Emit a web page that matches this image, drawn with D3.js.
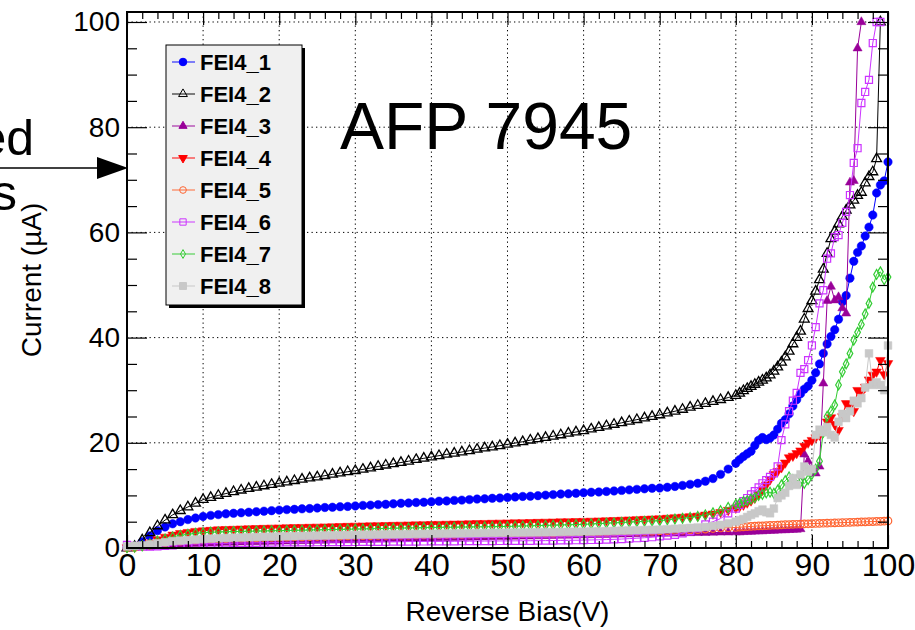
<!DOCTYPE html>
<html><head><meta charset="utf-8">
<script src="https://cdn.jsdelivr.net/npm/d3@7"></script>
<style>body{margin:0;background:#fff}svg{display:block}</style>
</head><body>
<svg id="c" width="915" height="630"></svg>
<script>
// ---------------- DATA ----------------
const voltage = [0,1,2,3,4,5,6,7,8,9,10,11,12,13,14,15,16,17,18,19,20,21,22,23,24,25,26,27,28,29,
30,31,32,33,34,35,36,37,38,39,40,41,42,43,44,45,46,47,48,49,50,51,52,53,54,55,56,57,58,59,
60,61,62,63,64,65,66,67,68,69,70,71,72,73,74,75,76,77,78,79,
80,80.5,81,81.5,82,82.5,83,83.5,84,84.5,85,85.5,86,86.5,87,87.5,88,88.5,89,89.5,
90,90.5,91,91.5,92,92.5,93,93.5,94,94.5,95,95.5,96,96.5,97,97.5,98,98.5,99,99.5,100];

const seriesNames = ["FEI4_1","FEI4_2","FEI4_3","FEI4_4","FEI4_5","FEI4_6","FEI4_7","FEI4_8"];

const FEI4_1 = [0.1,0.3,1.2,2.3,3.3,4.0,4.6,5.0,5.4,5.7,
 6.0,6.2,6.35,6.5,6.6,6.7,6.8,6.9,7.0,7.1,
 7.2,7.3,7.35,7.45,7.5,7.6,7.7,7.75,7.85,7.9,
 8.0,8.1,8.15,8.25,8.3,8.4,8.5,8.55,8.65,8.7,
 8.8,8.9,8.95,9.05,9.1,9.2,9.3,9.35,9.45,9.5,
 9.6,9.7,9.8,9.85,9.95,10.05,10.15,10.25,10.3,10.4,
 10.5,10.6,10.65,10.75,10.85,10.95,11.05,11.15,11.25,11.35,
 11.4,11.55,11.7,11.9,12.1,12.3,12.7,13.2,14.0,15.0,
 16.1,16.8,17.4,17.9,18.4,19.5,20.5,21.0,20.6,20.9,
 21.5,22.6,23.7,24.4,25.5,27.0,28.2,29.3,30.2,30.8,
 31.9,33.3,35.0,37.0,38.8,40.2,41.5,43.5,46.8,48.0,
 51.3,54.5,56.2,57.4,59.3,61.0,63.3,67.5,69.0,69.8,
 73.4];

const FEI4_2 = [0.0,0.3,1.5,2.9,4.2,5.3,6.3,7.1,7.8,8.5,
 9.2,9.6,10.0,10.35,10.7,11.0,11.3,11.55,11.8,12.05,
 12.3,12.55,12.8,13.05,13.3,13.5,13.75,14.0,14.25,14.5,
 14.7,14.95,15.2,15.5,15.75,16.0,16.25,16.5,16.8,17.05,
 17.3,17.55,17.8,18.0,18.25,18.5,18.75,19.0,19.2,19.45,
 19.7,19.95,20.2,20.5,20.75,21.0,21.25,21.5,21.8,22.05,
 22.3,22.6,22.9,23.2,23.5,23.8,24.1,24.4,24.7,25.0,
 25.3,25.65,26.0,26.35,26.75,27.1,27.45,27.85,28.2,28.6,
 29.0,29.4,29.9,30.3,30.7,31.1,31.5,31.9,32.3,32.9,
 33.6,34.4,35.3,36.3,37.4,38.8,40.0,41.2,43.5,45.5,
 47.0,48.8,51.0,53.0,56.0,58.8,60.2,61.6,63.0,64.2,
 65.2,66.1,67.0,67.6,69.4,70.6,71.5,74.0,100,null,
 null];

const FEI4_3 = [0,0.05,0.1,0.2,0.3,0.4,0.5,0.6,0.7,0.8,
 0.85,0.9,0.95,1.0,1.03,1.06,1.1,1.13,1.16,1.2,
 1.23,1.26,1.29,1.32,1.35,1.38,1.41,1.44,1.47,1.5,
 1.53,1.56,1.59,1.62,1.65,1.68,1.71,1.74,1.77,1.8,
 1.83,1.86,1.89,1.92,1.95,1.98,2.01,2.04,2.07,2.1,
 2.13,2.16,2.19,2.22,2.25,2.28,2.31,2.34,2.37,2.4,
 2.43,2.46,2.49,2.52,2.55,2.58,2.61,2.64,2.67,2.7,
 2.72,2.74,2.76,2.8,2.84,2.87,2.9,2.93,2.96,2.98,
 3.0,3.0,3.05,3.1,3.1,3.15,3.2,3.2,3.25,3.3,
 3.3,3.35,3.4,3.4,3.45,3.5,3.5,3.6,17.8,16.5,
 15.0,14.2,15.5,31.3,47.0,49.7,47.1,47.7,45.6,44.6,
 69.5,69.8,95.0,100,null,null,null,null,null,null,
 null];

const FEI4_4 = [0.1,0.2,0.5,1.0,1.6,2.1,2.5,2.8,3.0,3.2,
 3.3,3.4,3.5,3.55,3.6,3.65,3.7,3.74,3.78,3.82,
 3.85,3.89,3.92,3.95,3.98,4.01,4.05,4.08,4.12,4.16,
 4.2,4.23,4.26,4.29,4.32,4.35,4.38,4.41,4.44,4.47,
 4.5,4.53,4.56,4.59,4.62,4.65,4.68,4.71,4.74,4.77,
 4.8,4.83,4.86,4.89,4.92,4.95,4.98,5.01,5.04,5.07,
 5.1,5.14,5.18,5.22,5.27,5.32,5.37,5.43,5.49,5.55,
 5.6,5.7,5.8,5.9,6.0,6.1,6.3,6.5,6.8,7.2,
 7.6,7.9,8.2,8.6,9.0,9.5,10.2,11.0,12.0,13.0,
 14.0,14.6,15.3,16.2,17.2,17.5,18.0,18.5,19.4,20.0,
 20.5,21.0,21.5,22.5,24.0,24.8,23.5,22.4,25.0,27.5,
 26.8,26.0,30.0,29.5,30.6,32.0,32.9,33.5,35.7,33.0,
 35.1];

const FEI4_5 = [0,0.1,0.3,0.5,0.8,1.0,1.15,1.3,1.4,1.5,
 1.6,1.65,1.7,1.75,1.8,1.85,1.9,1.93,1.96,2.0,
 2.03,2.06,2.09,2.12,2.15,2.18,2.21,2.24,2.27,2.3,
 2.32,2.34,2.36,2.38,2.4,2.42,2.44,2.46,2.48,2.5,
 2.52,2.54,2.56,2.58,2.6,2.62,2.64,2.66,2.68,2.7,
 2.72,2.74,2.76,2.78,2.8,2.82,2.84,2.86,2.88,2.9,
 2.93,2.96,2.99,3.02,3.05,3.08,3.11,3.14,3.17,3.2,
 3.25,3.3,3.35,3.4,3.45,3.5,3.6,3.7,3.8,3.85,
 3.9,3.95,4.0,4.05,4.1,4.15,4.2,4.22,4.25,4.3,
 4.33,4.36,4.4,4.43,4.46,4.5,4.52,4.55,4.58,4.6,
 4.63,4.66,4.68,4.7,4.72,4.75,4.77,4.8,4.82,4.85,
 4.87,4.9,4.92,4.95,4.97,5.0,5.02,5.05,5.07,5.1,
 5.15];

const FEI4_6 = [0.6,0.4,0.3,0.25,0.3,0.4,0.5,0.6,0.7,0.75,
 0.8,0.83,0.86,0.89,0.92,0.95,0.97,0.99,1.01,1.03,
 1.05,1.06,1.07,1.08,1.09,1.1,1.11,1.12,1.13,1.14,
 1.15,1.16,1.17,1.18,1.19,1.2,1.21,1.22,1.23,1.24,
 1.25,1.26,1.27,1.28,1.29,1.3,1.31,1.32,1.33,1.34,
 1.35,1.36,1.37,1.38,1.39,1.4,1.42,1.44,1.46,1.48,
 1.5,1.53,1.56,1.6,1.65,1.7,1.78,1.86,1.95,2.05,
 2.2,2.35,2.5,2.8,3.2,3.8,4.5,5.0,5.6,6.6,
 7.5,8.2,8.9,9.5,10.2,10.8,11.5,12.3,12.9,13.5,
 14.2,15.5,20.5,23.5,26.0,28.0,29.5,33.3,34.0,35.7,
 38.5,42.0,46.5,49.0,55.0,56.0,59.1,59.5,61.8,63.9,
 67.1,73.2,76.0,84.6,86.7,89.0,96.0,100,100,null,
 null];

const FEI4_7 = [0.05,0.15,0.4,0.8,1.3,1.7,2.1,2.4,2.6,2.8,
 2.9,3.0,3.05,3.1,3.13,3.16,3.19,3.22,3.25,3.28,
 3.3,3.33,3.36,3.39,3.42,3.45,3.48,3.51,3.54,3.57,
 3.6,3.63,3.66,3.69,3.72,3.75,3.78,3.81,3.84,3.87,
 3.9,3.92,3.94,3.96,3.98,4.0,4.02,4.04,4.06,4.08,
 4.1,4.14,4.18,4.22,4.26,4.3,4.34,4.38,4.42,4.46,
 4.5,4.57,4.64,4.71,4.78,4.85,4.92,5.0,5.08,5.15,
 5.2,5.35,5.5,5.65,5.8,6.0,6.3,6.7,7.1,7.7,
 8.3,8.5,8.8,9.0,9.3,9.6,10.0,10.2,10.5,10.6,
 10.4,11.0,12.0,12.8,13.5,13.0,12.9,12.5,12.3,13.0,
 14.0,15.0,16.5,22.0,25.0,26.0,27.2,31.0,33.5,35.0,
 37.0,39.5,41.0,42.5,44.5,46.5,49.6,52.0,52.5,51.0,
 51.5];

const FEI4_8 = [0.3,0.4,0.5,0.7,0.9,1.1,1.3,1.4,1.5,1.6,
 1.7,1.78,1.85,1.9,1.95,2.0,2.04,2.08,2.12,2.16,
 2.2,2.23,2.26,2.29,2.32,2.35,2.38,2.41,2.44,2.47,
 2.5,2.52,2.54,2.56,2.58,2.6,2.62,2.64,2.66,2.68,
 2.7,2.72,2.74,2.76,2.78,2.8,2.82,2.84,2.86,2.88,
 2.9,2.92,2.94,2.96,2.98,3.0,3.02,3.04,3.06,3.08,
 3.1,3.14,3.18,3.22,3.26,3.3,3.34,3.38,3.42,3.46,
 3.5,3.58,3.66,3.74,3.82,3.9,4.0,4.2,4.4,4.7,
 5.0,5.3,5.5,5.9,6.3,6.6,7.0,7.3,6.8,6.6,
 7.5,9.5,10.0,10.5,11.8,13.3,12.0,14.0,15.5,14.5,
 15.0,21.5,22.5,22.0,23.0,21.5,21.0,24.0,25.5,24.7,
 26.0,28.0,27.5,28.5,30.5,37.0,31.0,31.5,31.0,30.0,
 38.5];

const xTickLabels = [0,10,20,30,40,50,60,70,80,90,100];
const yTickLabels = [0,20,40,60,80,100];
const xMinorTicks = [2,4,6,8,12,14,16,18,22,24,26,28,32,34,36,38,42,44,46,48,52,54,56,58,62,64,66,68,72,74,76,78,82,84,86,88,92,94,96,98];
const yMinorTicks = [5,10,15,25,30,35,45,50,55,65,70,75,85,90,95];
const xGridValues = [10,20,30,40,50,60,70,80,90];
const yGridValues = [20,40,60,80,100];

// ---------------- STYLE ----------------
const FONT = '"Liberation Sans", Arial, Helvetica, sans-serif';
const allSeries = [FEI4_1,FEI4_2,FEI4_3,FEI4_4,FEI4_5,FEI4_6,FEI4_7,FEI4_8];
const styles = [
  {color:"#0000ff", sym:d3.symbolCircle,   size:56, fill:true,  rot:0, sw:0.5},
  {color:"#000000", sym:d3.symbolTriangle, size:42, fill:false, rot:0, sw:1.3},
  {color:"#990099", sym:d3.symbolTriangle, size:36, fill:true,  rot:0, sw:0.5},
  {color:"#ff0000", sym:d3.symbolTriangle, size:40, fill:true,  rot:180, sw:0.5},
  {color:"#ff6633", sym:d3.symbolCircle,   size:44, fill:false, rot:0, sw:1.2},
  {color:"#cc33ff", sym:d3.symbolSquare,   size:50, fill:false, rot:0, sw:1.2},
  {color:"#33cc33", sym:d3.symbolDiamond,  size:28, fill:false, rot:0, sw:1.2},
  {color:"#c8c8c8", sym:d3.symbolSquare,   size:60, fill:true,  rot:0, sw:0.5}
];

const svg = d3.select("#c");
const x = d3.scaleLinear().domain([0,100]).range([127,888]);
const y = d3.scaleLinear().domain([0,101.9]).range([548,12]);
const [X0,X1] = x.range(); const [Y0,Y1] = y.range();

// grid
const grid = svg.append("g").attr("stroke","#000").attr("stroke-width",1).attr("stroke-dasharray","1.3,3.2");
grid.selectAll("line.gx").data(xGridValues).join("line").attr("class","gx")
  .attr("x1",d=>x(d)).attr("x2",d=>x(d)).attr("y1",Y1).attr("y2",Y0);
grid.selectAll("line.gy").data(yGridValues).join("line").attr("class","gy")
  .attr("y1",d=>y(d)).attr("y2",d=>y(d)).attr("x1",X0).attr("x2",X1);

// series
const plot = svg.append("g");
allSeries.forEach((vals,si)=>{
  const st = styles[si];
  const pts = voltage.map((v,i)=>({v, c: vals[i]}));
  const line = d3.line().defined(d=>d.c!=null).x(d=>x(d.v)).y(d=>y(d.c));
  const g = plot.append("g");
  g.append("path").attr("d",line(pts)).attr("fill","none").attr("stroke",st.color).attr("stroke-width",1);
  const sym = d3.symbol().type(st.sym).size(st.size);
  g.selectAll("path.m").data(pts.filter(d=>d.c!=null)).join("path").attr("class","m")
    .attr("d",sym)
    .attr("transform",d=>`translate(${x(d.v)},${y(d.c)}) rotate(${st.rot})`)
    .attr("fill",st.fill?st.color:"none")
    .attr("stroke",st.color).attr("stroke-width",st.sw);
});

// axes
function styleAxis(g){ g.select(".domain").remove(); g.selectAll("line").attr("stroke","#000").attr("stroke-width",1.2); }
svg.append("g").attr("transform",`translate(0,${Y0})`)
  .call(d3.axisBottom(x).tickValues(xTickLabels).tickSizeInner(-13).tickSizeOuter(0).tickPadding(5))
  .call(styleAxis).attr("font-size",32).attr("font-family",FONT);
svg.append("g").attr("transform",`translate(0,${Y0})`)
  .call(d3.axisBottom(x).tickValues(xMinorTicks).tickSizeInner(-7).tickSizeOuter(0).tickFormat(""))
  .call(styleAxis);
svg.append("g").attr("transform",`translate(0,${Y1})`)
  .call(d3.axisTop(x).tickValues(xTickLabels).tickSizeInner(-13).tickSizeOuter(0).tickFormat(""))
  .call(styleAxis);
svg.append("g").attr("transform",`translate(0,${Y1})`)
  .call(d3.axisTop(x).tickValues(xMinorTicks).tickSizeInner(-7).tickSizeOuter(0).tickFormat(""))
  .call(styleAxis);
svg.append("g").attr("transform",`translate(${X0},0)`)
  .call(d3.axisLeft(y).tickValues(yTickLabels).tickSizeInner(-20).tickSizeOuter(0).tickPadding(7))
  .call(styleAxis).attr("font-size",28).attr("font-family",FONT);
svg.append("g").attr("transform",`translate(${X0},0)`)
  .call(d3.axisLeft(y).tickValues(yMinorTicks).tickSizeInner(-10).tickSizeOuter(0).tickFormat(""))
  .call(styleAxis);
svg.append("g").attr("transform",`translate(${X1},0)`)
  .call(d3.axisRight(y).tickValues(yTickLabels).tickSizeInner(-20).tickSizeOuter(0).tickFormat(""))
  .call(styleAxis);
svg.append("g").attr("transform",`translate(${X1},0)`)
  .call(d3.axisRight(y).tickValues(yMinorTicks).tickSizeInner(-10).tickSizeOuter(0).tickFormat(""))
  .call(styleAxis);

// frame
svg.append("rect").attr("x",X0).attr("y",Y1).attr("width",X1-X0).attr("height",Y0-Y1)
  .attr("fill","none").attr("stroke","#000").attr("stroke-width",2);

// axis titles
svg.append("text").attr("x",(X0+X1)/2).attr("y",621).attr("text-anchor","middle")
  .attr("font-family",FONT).attr("font-size",28).text("Reverse Bias(V)");
svg.append("text").attr("transform",`translate(41,${(Y0+Y1)/2}) rotate(-90)`).attr("text-anchor","middle")
  .attr("font-family",FONT).attr("font-size",28).text("Current (\u00b5A)");

// title
svg.append("text").attr("x",340).attr("y",149).attr("font-family",FONT).attr("font-size",66).text("AFP 7945");

// legend
const lg = svg.append("g");
lg.append("rect").attr("x",169).attr("y",48).attr("width",136).attr("height",260).attr("fill","#000");
lg.append("rect").attr("x",166).attr("y",45).attr("width",136).attr("height",260).attr("fill","#f0f0f0").attr("stroke","#000").attr("stroke-width",1);
seriesNames.forEach((name,i)=>{
  const st = styles[i]; const cy = 62 + i*32;
  lg.append("line").attr("x1",172).attr("x2",195).attr("y1",cy).attr("y2",cy).attr("stroke",st.color).attr("stroke-width",1.2).attr("opacity",0.8);
  lg.append("path").attr("d",d3.symbol().type(st.sym).size(st.size*0.8)())
    .attr("transform",`translate(183,${cy}) rotate(${st.rot})`)
    .attr("fill",st.fill?st.color:"none").attr("stroke",st.color).attr("stroke-width",1);
  lg.append("text").attr("x",200).attr("y",cy+8).attr("font-family",FONT).attr("font-weight","bold")
    .attr("font-size",22).attr("fill","#000").text(name);
});

// annotation cut at the left edge (as in the reference)
svg.append("text").attr("x",34).attr("y",155).attr("text-anchor","end").attr("font-family",FONT).attr("font-size",50).text("ed");
svg.append("text").attr("x",17).attr("y",210).attr("text-anchor","end").attr("font-family",FONT).attr("font-size",50).text("s");
svg.append("line").attr("x1",0).attr("x2",100).attr("y1",168).attr("y2",168).attr("stroke","#000").attr("stroke-width",1.5);
svg.append("polygon").attr("points","97,157 128,168 97,179").attr("fill","#000");
</script>
</body></html>
